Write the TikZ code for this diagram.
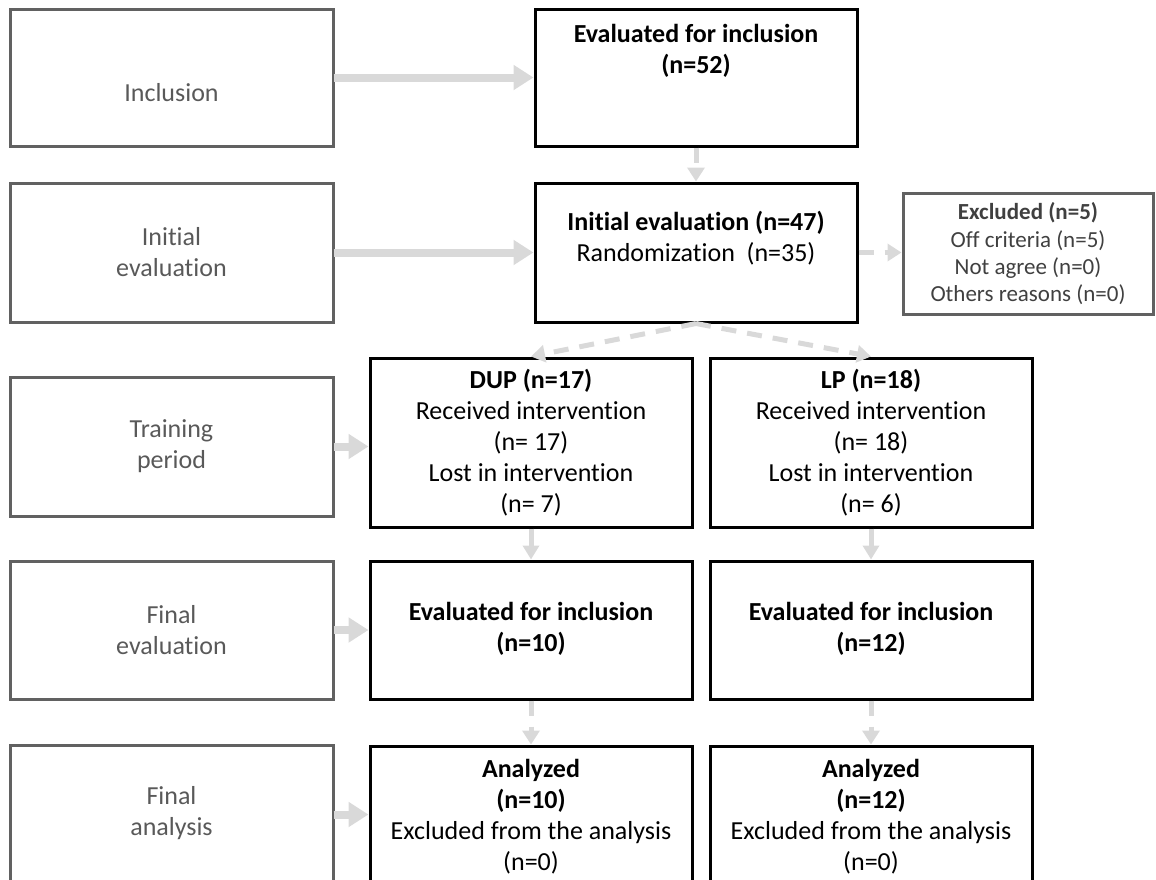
\documentclass[tikz,border=0pt]{standalone}
\usepackage{fontspec}
\setmainfont{Carlito}[Ligatures=NoCommon]
\usetikzlibrary{arrows.meta}
\definecolor{arrowgrey}{HTML}{D9D9D9}
\definecolor{stagegrey}{HTML}{616161}
\definecolor{stagetext}{HTML}{595959}
\definecolor{exclgrey}{HTML}{404040}
\begin{document}
\begin{tikzpicture}[x=1pt,y=-1pt,
  stagebox/.style={draw=stagegrey, line width=3pt, rectangle, inner sep=0pt, minimum width=323pt},
  flowbox/.style={draw=black, line width=3pt, rectangle, inner sep=0pt, minimum width=322pt},
  exclbox/.style={draw=stagegrey, line width=3pt, rectangle, inner sep=0pt},
  stagelabel/.style={align=center, text=stagetext, font=\fontsize{26}{31}\selectfont, inner sep=0pt},
  flowlabel/.style={align=center, text=black, font=\fontsize{26}{31}\selectfont, inner sep=0pt},
  excllabel/.style={align=center, text=exclgrey, font=\fontsize{23}{27.3}\selectfont, inner sep=0pt},
  bigarrow/.style={draw=arrowgrey, line width=8pt, -{Triangle[length=20pt,width=24pt]}, shorten <=-1pt},
  thinarrow/.style={draw=arrowgrey, line width=5pt, -{Triangle[length=14pt,width=16pt]}},
  dasharrow/.style={draw=arrowgrey, line width=5pt, dash pattern=on 15pt off 11pt, -{Triangle[length=14pt,width=17pt]}}
]
\clip (0,0) rectangle (1156,879);
\useasboundingbox (0,0) rectangle (1156,879);

% stage column
\node[stagebox, minimum height=137pt] (inc) at (171.5,77.5) {};
\node[stagebox, minimum height=139pt] (ini) at (171.5,252.5) {};
\node[stagebox, minimum height=139pt] (trn) at (171.5,446.5) {};
\node[stagebox, minimum height=138pt] (fev) at (171.5,630) {};
\node[stagebox, minimum height=139pt] (fan) at (171.5,814.5) {};
\node[stagelabel] (inc-t) at (171.5,93) {Inclusion};
\node[stagelabel] (ini-t) at (171.5,252.5) {Initial\\evaluation};
\node[stagelabel] (trn-t) at (171.5,446.5) {Training\\period};
\node[stagelabel] (fev-t) at (171.5,630) {Final\\evaluation};
\node[stagelabel] (fan-t) at (171.5,813) {Final\\analysis};

% enrolment boxes
\node[flowbox, minimum height=137pt] (evl) at (696,77.5) {};
\node[flowlabel] (evl-t) at (696,51) {\bfseries Evaluated for inclusion\\\bfseries (n=52)};
\node[flowbox, minimum height=139pt] (iev) at (696,252.5) {};
\node[flowlabel] (iev-t) at (696,238) {\bfseries Initial evaluation (n=47)\\Randomization\hspace{0.45em}(n=35)};
\node[exclbox, minimum width=250pt, minimum height=121pt] (exc) at (1028,253.5) {};
\node[excllabel] (exc-t) at (1028,254) {\bfseries Excluded (n=5)\\Off criteria (n=5)\\Not agree (n=0)\\Others reasons (n=0)};

% allocation arms
\node[flowbox, minimum height=169pt] (dup) at (531,442.5) {};
\node[flowlabel] (dup-t) at (531,443) {\bfseries DUP (n=17)\\Received intervention\\(n= 17)\\Lost in intervention\\(n= 7)};
\node[flowbox, minimum height=169pt] (lp) at (871,442.5) {};
\node[flowlabel] (lp-t) at (871,443) {\bfseries LP (n=18)\\Received intervention\\(n= 18)\\Lost in intervention\\(n= 6)};

% final evaluation
\node[flowbox, minimum height=138pt] (ev10) at (531,630) {};
\node[flowlabel] (ev10-t) at (531,629) {\bfseries Evaluated for inclusion\\\bfseries (n=10)};
\node[flowbox, minimum height=138pt] (ev12) at (871,630) {};
\node[flowlabel] (ev12-t) at (871,629) {\bfseries Evaluated for inclusion\\\bfseries (n=12)};

% analysis
\node[flowbox, minimum height=138pt] (an10) at (531,815) {};
\node[flowlabel] (an10-t) at (531,817) {\bfseries Analyzed\\\bfseries (n=10)\\Excluded from the analysis\\(n=0)};
\node[flowbox, minimum height=138pt] (an12) at (871,815) {};
\node[flowlabel] (an12-t) at (871,817) {\bfseries Analyzed\\\bfseries (n=12)\\Excluded from the analysis\\(n=0)};

% stage arrows
\draw[bigarrow] (inc.east) -- (evl.west);
\draw[bigarrow] (ini.east) -- (iev.west);
\draw[bigarrow] (trn.east) -- (trn.east -| dup.west);
\draw[bigarrow] (fev.east) -- (ev10.west);
\draw[bigarrow] (fan.east) -- (fan.east -| an10.west);

% flow arrows
\draw[dasharrow] (evl.south) -- (iev.north);
\draw[dasharrow] (iev.east) -- (iev.east -| exc.west);
\draw[dasharrow] (iev.south) -- (dup.north);
\draw[dasharrow] (iev.south) -- (lp.north);
\draw[thinarrow] (dup.south) -- (ev10.north);
\draw[thinarrow] (lp.south) -- (ev12.north);
\draw[dasharrow] (ev10.south) -- (an10.north);
\draw[dasharrow] (ev12.south) -- (an12.north);
\end{tikzpicture}
\end{document}
